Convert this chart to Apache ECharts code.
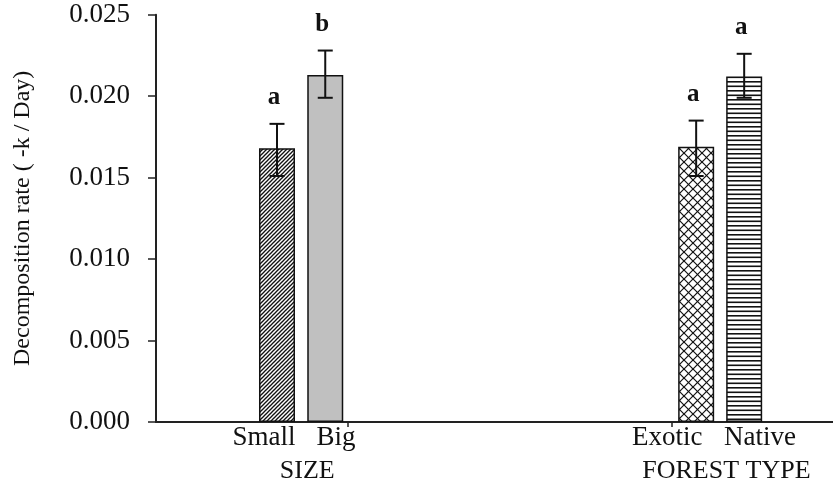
<!DOCTYPE html>
<html>
<head>
<meta charset="utf-8">
<script src="https://cdn.jsdelivr.net/npm/echarts@6/dist/echarts.min.js"></script>
<style>html,body{margin:0;padding:0;background:#fff}#c{width:833px;height:488px}</style>
</head>
<body>
<div id="c"></div>
<script>
// ---- data ----
const categories = ['Small', 'Big', 'Exotic', 'Native'];
const groups = ['SIZE', 'FOREST TYPE'];
const barPositions = [2.52, 3.525, 11.25, 12.25];      // x positions of bars
const means = [0.0168, 0.0213, 0.0169, 0.0212];
const errLow = [0.0151, 0.0199, 0.0151, 0.0199];
const errHigh = [0.0183, 0.0228, 0.0185, 0.0226];
const letters = ['a', 'b', 'a', 'a'];
const labelPositions = [2.25, 3.75, 10.65, 12.58];     // category tick label positions
const groupPositions = [3.15, 11.88];
const tickPositions = [4.0, 10.75];
const yTicks = [0, 0.005, 0.01, 0.015, 0.02, 0.025];

const FONT = 'Liberation Serif';

function pattern(type) {
  const c = document.createElement('canvas');
  let w = 8, h = 8;
  if (type === 'diag') { w = 4; h = 4; }
  if (type === 'cross') { w = 9; h = 9; }
  if (type === 'horiz') { w = 4; h = 9; }
  c.width = w; c.height = h;
  const g = c.getContext('2d');
  g.fillStyle = '#fff'; g.fillRect(0, 0, w, h);
  g.strokeStyle = '#111'; g.fillStyle = '#111';
  if (type === 'diag') {
    g.lineWidth = 1.3;
    for (let k = -1; k <= 1; k++) {
      g.beginPath(); g.moveTo(k * 4 - 1, 5); g.lineTo(k * 4 + 5, -1); g.stroke();
    }
  } else if (type === 'cross') {
    g.lineWidth = 1.2;
    g.beginPath(); g.moveTo(0, 0); g.lineTo(9, 9); g.stroke();
    g.beginPath(); g.moveTo(0, 9); g.lineTo(9, 0); g.stroke();
  } else if (type === 'horiz') {
    g.fillRect(0, 0, w, 1.6);
    g.fillRect(0, 4.5, w, 1.6);
  }
  return { image: c, repeat: 'repeat' };
}
const fills = [pattern('diag'), '#c0c0c0', pattern('cross'), pattern('horiz')];

function nearestIndex(arr, v) {
  let best = 0;
  arr.forEach((p, i) => { if (Math.abs(p - v) < Math.abs(arr[best] - v)) best = i; });
  return best;
}

const chart = echarts.init(document.getElementById('c'), null, { renderer: 'canvas' });
chart.setOption({
  animation: false,
  backgroundColor: '#fff',
  grid: { left: 156, right: 0, top: 14.7, bottom: 66, containLabel: false },
  xAxis: [{
    type: 'value', min: 0, max: 14.1,
    axisLine: { show: true, lineStyle: { color: '#222', width: 2 } },
    axisTick: { show: true, length: 5, customValues: tickPositions, lineStyle: { color: '#222', width: 1.5 } },
    axisLabel: {
      show: true, customValues: labelPositions, margin: 2,
      fontFamily: FONT, fontSize: 27, color: '#111',
      formatter: v => categories[nearestIndex(labelPositions, v)]
    },
    splitLine: { show: false }
  }, {
    type: 'value', min: 0, max: 14.1, position: 'bottom', offset: 33,
    axisLine: { show: false }, axisTick: { show: false },
    axisLabel: {
      show: true, customValues: groupPositions, margin: 3,
      fontFamily: FONT, fontSize: 26, color: '#111',
      formatter: v => groups[nearestIndex(groupPositions, v)]
    },
    splitLine: { show: false }
  }],
  yAxis: {
    type: 'value', min: 0, max: 0.025, interval: 0.005,
    name: 'Decomposition rate ( -k / Day)', nameLocation: 'middle', nameRotate: 90, nameGap: 121,
    nameTextStyle: { fontFamily: FONT, fontSize: 24, color: '#111' },
    axisLine: { show: true, lineStyle: { color: '#222', width: 2 } },
    axisTick: { show: true, inside: false, length: 8, lineStyle: { color: '#222', width: 1.5 } },
    axisLabel: { margin: 26, fontFamily: FONT, fontSize: 27, color: '#111', formatter: v => v.toFixed(3) },
    splitLine: { show: false }
  },
  series: [{
    type: 'bar',
    xAxisIndex: 0,
    barWidth: 36,
    data: means.map((m, i) => ({
      value: [barPositions[i], m],
      itemStyle: { color: fills[i], borderColor: '#111', borderWidth: 1.5 }
    }))
  }, {
    type: 'custom',
    xAxisIndex: 0,
    data: means.map((m, i) => [barPositions[i], errLow[i], errHigh[i], i]),
    renderItem: function (params, api) {
      const x = api.value(0);
      const lo = api.coord([x, api.value(1)]);
      const hi = api.coord([x, api.value(2)]);
      const cap = 7.5;
      const st = { stroke: '#111', lineWidth: 2 };
      return {
        type: 'group',
        children: [
          { type: 'line', shape: { x1: lo[0], y1: lo[1], x2: hi[0], y2: hi[1] }, style: st },
          { type: 'line', shape: { x1: hi[0] - cap, y1: hi[1], x2: hi[0] + cap, y2: hi[1] }, style: st },
          { type: 'line', shape: { x1: lo[0] - cap, y1: lo[1], x2: lo[0] + cap, y2: lo[1] }, style: st },
          { type: 'text', style: {
              text: letters[api.value(3)], x: hi[0] - 3, y: hi[1] - 26,
              align: 'center', verticalAlign: 'middle',
              font: 'bold 25px "Liberation Serif"', fill: '#111'
          } }
        ]
      };
    },
    z: 5
  }]
});
</script>
</body>
</html>
